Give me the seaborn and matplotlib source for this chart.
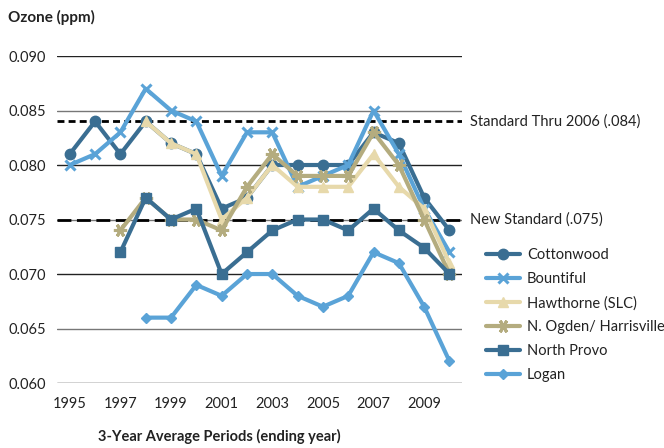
import pandas as pd
import matplotlib.pyplot as plt
import seaborn as sns
import numpy as np

# ozone 3-year averages (ppm) by ending year
years = list(range(1995, 2011))

cottonwood = [0.081, 0.084, 0.081, 0.084, 0.082, 0.081, 0.076, 0.077,
              0.080, 0.080, 0.080, 0.080, 0.083, 0.082, 0.077, 0.074]
bountiful = [0.080, 0.081, 0.083, 0.087, 0.085, 0.084, 0.079, 0.083,
             0.083, 0.078, 0.079, 0.080, 0.085, 0.081, 0.076, 0.072]
hawthorne = [None, None, None, 0.084, 0.082, 0.081, 0.075, 0.077,
             0.080, 0.078, 0.078, 0.078, 0.081, 0.078, 0.076, 0.071]
n_ogden = [None, None, 0.074, 0.077, 0.075, 0.075, 0.074, 0.078,
           0.081, 0.079, 0.079, 0.079, 0.083, 0.080, 0.075, 0.070]
north_provo = [None, None, 0.072, 0.077, 0.075, 0.076, 0.070, 0.072,
               0.074, 0.075, 0.075, 0.074, 0.076, 0.074, 0.0724, 0.070]
logan = [None, None, None, 0.066, 0.066, 0.069, 0.068, 0.070,
         0.070, 0.068, 0.067, 0.068, 0.072, 0.071, 0.067, 0.062]

sites = ['Cottonwood', 'Bountiful', 'Hawthorne (SLC)', 'N. Ogden/ Harrisville',
         'North Provo', 'Logan']
values = [cottonwood, bountiful, hawthorne, n_ogden, north_provo, logan]

old_standard = 0.084
new_standard = 0.075

# long table for seaborn
rows = []
for site, vals in zip(sites, values):
    for yr, v in zip(years, vals):
        if v is not None:
            rows.append({'Year': yr, 'Ozone': v, 'Site': site})
df = pd.DataFrame(rows)

dark_blue = '#3a6e92'
light_blue = '#5aa3d7'
cream = '#e7d9ab'
khaki = '#b4ac7f'
colors = [dark_blue, light_blue, cream, khaki, dark_blue, light_blue]
markers = ['o', 'x', '^', (6, 2, 90), 's', 'D']
msizes = [7.5, 7.5, 7.5, 9.5, 7, 5.5]

sns.set_style('white')
plt.rcParams['font.family'] = ['Lato', 'DejaVu Sans']
text_col = '#222222'

fig = plt.figure(figsize=(6.64, 4.48), dpi=100)
ax = fig.add_axes([0.086, 0.145, 0.61, 0.730])

# gridlines
for y in np.arange(0.060, 0.0901, 0.005):
    c = '#222222' if round(y * 1000) % 10 == 0 else '#777777'
    ax.axhline(y, color=c, lw=1.0, zorder=0)

ax.axhline(old_standard, color='black', lw=2, ls=(0, (2.5, 1.5)), zorder=1)
ax.axhline(new_standard, color='black', lw=2, ls=(0, (5, 2)), zorder=1)

for site, col, mk, ms in zip(sites, colors, markers, msizes):
    sub = df[df['Site'] == site]
    sns.lineplot(data=sub, x='Year', y='Ozone', ax=ax, color=col, lw=3,
                 marker=mk, markersize=ms, markeredgecolor=col,
                 markeredgewidth=2.2 if mk in ('x',) or isinstance(mk, tuple) else 1,
                 label=site, zorder=3)

ax.set_xlim(1994.5, 2010.5)
ax.set_ylim(0.060, 0.090)
ax.set_xticks(range(1995, 2010, 2))
ax.set_yticks(np.arange(0.060, 0.0901, 0.005))
ax.set_yticklabels([f'{v:.3f}' for v in np.arange(0.060, 0.0901, 0.005)])
ax.tick_params(length=0, labelsize=10.5, colors=text_col)
ax.tick_params(axis='x', pad=10)
ax.tick_params(axis='y', pad=8)
for s in ax.spines.values():
    s.set_visible(False)
ax.set_xlabel('')
ax.set_ylabel('')

ax.text(1.02, old_standard, 'Standard Thru 2006 (.084)', transform=ax.get_yaxis_transform(),
        va='center', ha='left', fontsize=10.5, color=text_col)
ax.text(1.02, new_standard, 'New Standard (.075)', transform=ax.get_yaxis_transform(),
        va='center', ha='left', fontsize=10.5, color=text_col)

fig.text(0.012, 0.962, 'Ozone (ppm)', fontsize=11, fontweight='bold', color=text_col,
         va='center', ha='left')
fig.text(0.33, 0.025, '3-Year Average Periods (ending year)', fontsize=10.5,
         fontweight='bold', color=text_col, va='center', ha='center')

leg = ax.legend(loc='upper left', bbox_to_anchor=(1.045, 0.43), frameon=False,
                fontsize=10.5, handlelength=2.3, labelspacing=0.68, handletextpad=0.5,
                borderaxespad=0)
for t in leg.get_texts():
    t.set_color(text_col)

fig.savefig('out.png', dpi=100)
